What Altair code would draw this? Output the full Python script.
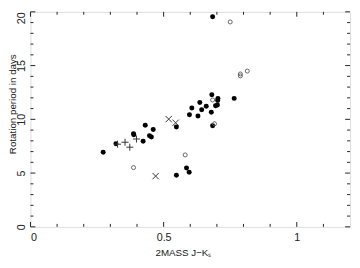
import altair as alt
import pandas as pd

# Filled circles
filled_x = [0.273, 0.321, 0.387, 0.388, 0.431, 0.423, 0.447, 0.454, 0.461, 0.548,
            0.548, 0.586, 0.596, 0.597, 0.606, 0.629, 0.636, 0.643, 0.660, 0.679,
            0.681, 0.684, 0.684, 0.695, 0.702, 0.704, 0.703, 0.765]
filled_y = [6.93, 7.72, 8.65, 8.56, 9.44, 7.96, 8.47, 8.35, 9.05, 9.29,
            4.81, 5.48, 5.08, 10.42, 11.05, 10.30, 11.56, 10.89, 11.22, 10.67,
            12.29, 9.41, 19.55, 11.26, 11.33, 11.95, 11.75, 11.95]
# Open circles
open_x = [0.750, 0.814, 0.788, 0.788, 0.684, 0.691, 0.581, 0.387]
open_y = [19.06, 14.49, 14.22, 14.04, 11.80, 9.59, 6.69, 5.51]
# X markers
cross_x = [0.519, 0.545, 0.470]
cross_y = [10.02, 9.68, 4.72]
# Plus markers
plus_x = [0.327, 0.355, 0.373, 0.398]
plus_y = [7.69, 7.87, 7.41, 8.17]

x_major = [0, 0.5, 1.0]
x_minor = [0.1, 0.2, 0.3, 0.4, 0.6, 0.7, 0.8, 0.9, 1.1]
y_major = [0, 5, 10, 15, 20]
y_minor = [v for v in range(1, 20) if v % 5 != 0]

W, H = 327, 220
FONT = "Liberation Sans"
TXT = "#222222"

xs = alt.Scale(domain=[0, 1.2], nice=False, zero=False)
ys = alt.Scale(domain=[0, 20], nice=False, zero=False)

x_axis = alt.Axis(values=x_major, format="~g", title="2MASS J\u2212K\u209b",
                  domain=False, ticks=False, grid=False, labelPadding=5,
                  labelFontSize=11, titleFontSize=10, titleFontWeight="normal",
                  titleX=156, titleY=26, titleBaseline="middle",
                  labelFont=FONT, titleFont=FONT, labelColor=TXT, titleColor=TXT)
y_axis = alt.Axis(values=y_major, format="~g", title="Rotation period in days",
                  domain=False, ticks=False, grid=False, labelPadding=4,
                  labelAngle=-90, labelBaseline="bottom",
                  labelAlign={"condition": {"test": "datum.value == 20", "value": "right"}, "value": "center"},
                  labelFontSize=11, titleFontSize=10, titleFontWeight="normal",
                  titleAngle=-90, titleX=-18, titleY=94, titleBaseline="middle",
                  titleAlign="center",
                  labelFont=FONT, titleFont=FONT, labelColor=TXT, titleColor=TXT)

df_f = pd.DataFrame({"x": filled_x, "y": filled_y})
df_o = pd.DataFrame({"x": open_x, "y": open_y})
df_c = pd.DataFrame({"x": cross_x, "y": cross_y})
df_p = pd.DataFrame({"x": plus_x, "y": plus_y})

base_enc = dict(x=alt.X("x:Q", scale=xs, axis=x_axis),
                y=alt.Y("y:Q", scale=ys, axis=y_axis))

filled = alt.Chart(df_f).mark_circle(size=26, color="#000000", opacity=1).encode(**base_enc)
opened = alt.Chart(df_o).mark_point(shape="circle", size=17, filled=False, color="#555555",
                                    strokeWidth=0.9, opacity=1).encode(**base_enc)
crosses = alt.Chart(df_c).mark_point(shape="M-1,-1L1,1M-1,1L1,-1", size=42, filled=False,
                                     color="#333333", strokeWidth=1, opacity=1).encode(**base_enc)
pluses = alt.Chart(df_p).mark_point(shape="M-1,0L1,0M0,-1L0,1", size=52, filled=False,
                                    color="#333333", strokeWidth=1, opacity=1).encode(**base_enc)

TK = "#222222"
def xticks(vals, length):
    d = pd.DataFrame({"x": vals})
    bot = alt.Chart(d).mark_rule(color=TK, strokeWidth=1).encode(
        x=alt.X("x:Q", scale=xs), y=alt.value(H), y2=alt.value(H - length))
    top = alt.Chart(d).mark_rule(color=TK, strokeWidth=1).encode(
        x=alt.X("x:Q", scale=xs), y=alt.value(0), y2=alt.value(length))
    return [bot, top]

def yticks(vals, length):
    d = pd.DataFrame({"y": vals})
    left = alt.Chart(d).mark_rule(color=TK, strokeWidth=1).encode(
        y=alt.Y("y:Q", scale=ys), x=alt.value(0), x2=alt.value(length))
    right = alt.Chart(d).mark_rule(color=TK, strokeWidth=1).encode(
        y=alt.Y("y:Q", scale=ys), x=alt.value(W), x2=alt.value(W - length))
    return [left, right]

ticks = xticks(x_major, 5) + xticks(x_minor, 3) + yticks(y_major, 5) + yticks(y_minor, 3)

chart = alt.layer(filled, opened, crosses, pluses, *ticks).properties(
    width=W, height=H,
    autosize=alt.AutoSizeParams(type="none"),
    padding={"left": 23, "top": 1, "right": 2, "bottom": 31},
).configure_view(stroke="#222222", strokeWidth=1).configure(background="white")

chart.save("out.html", embed_options={"renderer": "svg", "actions": False})
